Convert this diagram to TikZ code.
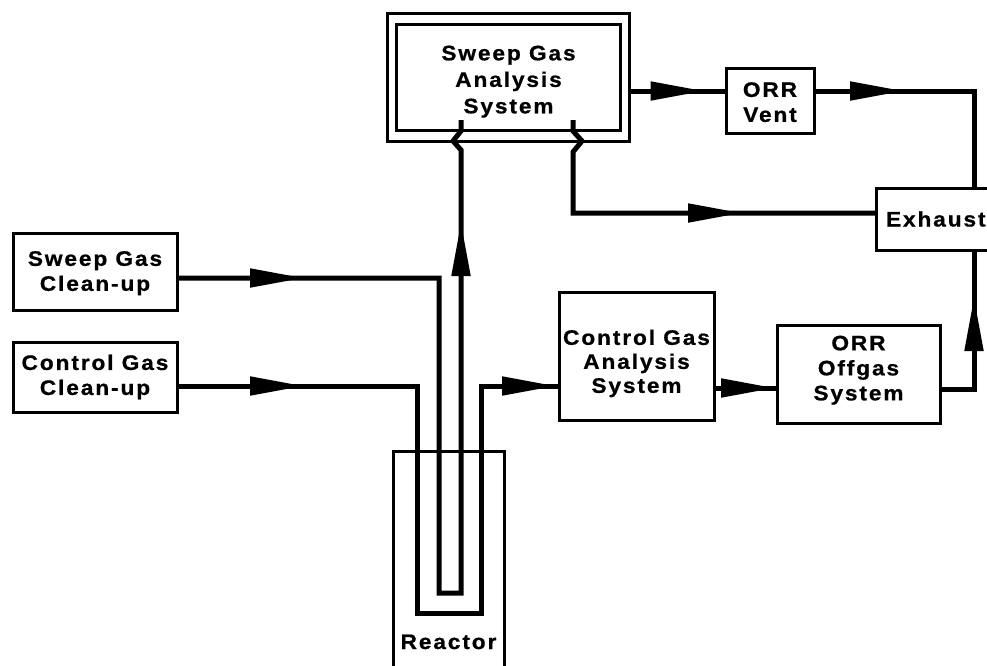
\documentclass[tikz,border=0pt]{standalone}
\usepackage{fontspec}
\setmainfont{Liberation Sans}[FakeStretch=1.08,LetterSpace=9,FakeBold=0.8]
\usetikzlibrary{arrows.meta,decorations.markings}
\tikzset{
  box/.style={draw, line width=3pt, outer sep=0pt, inner sep=0pt, align=center,
    font=\fontsize{21}{25}\selectfont\bfseries},
  pipe/.style={draw, line width=5pt, line join=miter},
  flowarrow/.style={postaction={decorate, decoration={markings,
    mark=at position #1 with {\arrow{Triangle[length=54pt,width=18pt]}}}}},
}
\newcommand{\myupstrut}[1]{\rule{0pt}{#1}}
\newcommand{\mydownstrut}[1]{\rule[-#1]{0pt}{1pt}}
\begin{document}
\begin{tikzpicture}[x=1pt,y=-1pt]
\useasboundingbox (0,0) rectangle (987,665);
\clip (0,0) rectangle (987,665);
% boxes
\node[box, minimum width=224pt, minimum height=106pt, font=\fontsize{21}{26.5}\selectfont\bfseries] (sga) at (508.5,77) {\myupstrut{24pt}Sweep Gas\\Analysis\\System};
\node[draw, line width=3pt, outer sep=0pt, minimum width=242pt, minimum height=128pt] (sgao) at (508.5,77) {};
\node[box, minimum width=88pt, minimum height=65pt] (orrv) at (770,100.5) {\myupstrut{18pt}ORR\\Vent};
\node[box, anchor=west, minimum height=62pt, text width=130pt, align=left, inner xsep=10pt] (exh) at (876,219) {Exhaust};
\node[box, minimum width=164pt, minimum height=77pt] (sgc) at (95,271.5) {\myupstrut{18pt}Sweep Gas\\Clean-up};
\node[box, minimum width=164pt, minimum height=70pt] (cgc) at (95,377) {Control Gas\\Clean-up};
\node[box, minimum width=155pt, minimum height=128pt, font=\fontsize{21}{24}\selectfont\bfseries] (cga) at (636.5,356) {\myupstrut{30pt}Control Gas\\Analysis\\System};
\node[box, minimum width=163pt, minimum height=98pt] (orro) at (858.5,374) {ORR\\Offgas\\System\mydownstrut{12pt}};
\node[box, anchor=base, text height=198pt, text depth=30pt, minimum width=111pt] (reactor) at (448.5,649) {Reactor};
\coordinate (xr) at (974,0);
% pipes
\draw[pipe, flowarrow=127pt, flowarrow=970pt] ([yshift=-6.5pt]sgc.east) -- (439,278) -- (439,593) -- (461,593) -- (461,150) -- (453,141) -- (461,131) -- (461,120);
\draw[pipe, flowarrow=127pt, flowarrow=-3pt] ([yshift=-9pt]cgc.east) -- (417,386) -- (417,613) -- (481,613) -- (481,386) -- ([yshift=-30pt]cga.west);
\draw[pipe, flowarrow=75pt] ([yshift=-14pt]sgao.east) -- ([yshift=9.5pt]orrv.west);
\draw[pipe, flowarrow=90pt] ([yshift=9.5pt]orrv.east) -- (974,91) -- (xr |- exh.north);
\draw[pipe, flowarrow=-134pt] (573,120) -- (573,131) -- (582,141) -- (573,152) -- (573,213) -- ([yshift=6pt]exh.west);
\draw[pipe, flowarrow=-2pt] ([yshift=-32pt]cga.east) -- ([yshift=-14pt]orro.west);
\draw[pipe, flowarrow=126pt] ([yshift=-15pt]orro.east) -- (974,389) -- (xr |- exh.south);
\end{tikzpicture}
\end{document}
